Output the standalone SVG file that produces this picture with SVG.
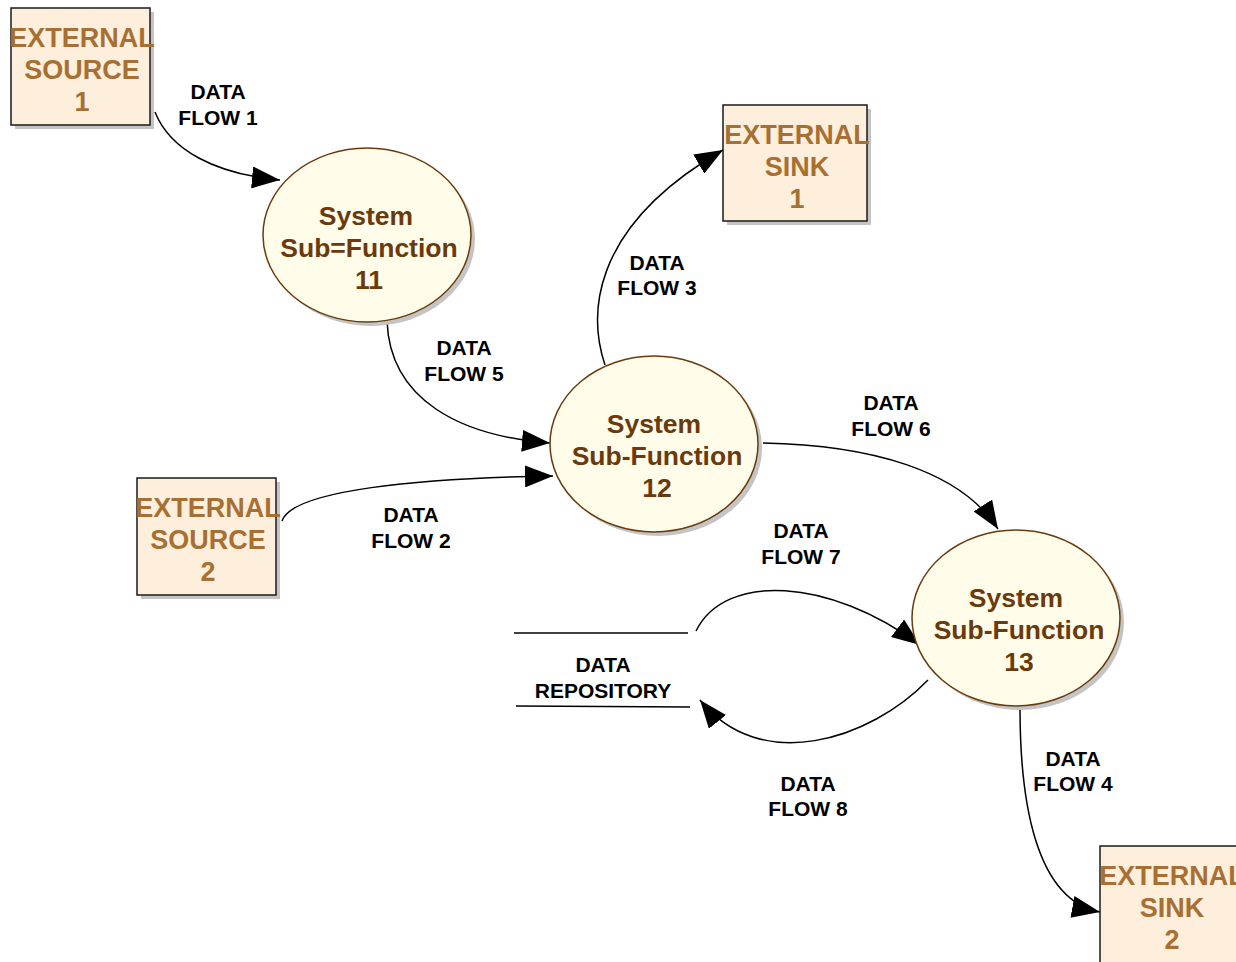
<svg xmlns="http://www.w3.org/2000/svg" width="1236" height="962" viewBox="0 0 1236 962">
<style>
.bx{fill:#FDEFDC;stroke:#1a1a1a;stroke-width:1.5}
.sh{fill:#c4c4c4}
.el{fill:#FFFDE9;stroke:#6B3A0B;stroke-width:1.5}
.bt{font-family:"Liberation Sans",Arial,sans-serif;font-weight:bold;font-size:27px;fill:#A86F32;text-anchor:middle;dominant-baseline:central}
.et{font-family:"Liberation Sans",Arial,sans-serif;font-weight:bold;font-size:26.5px;fill:#6B3A0B;text-anchor:middle;dominant-baseline:central}
.lb{font-family:"Liberation Sans",Arial,sans-serif;font-weight:bold;font-size:21px;fill:#000;text-anchor:middle;dominant-baseline:central}
.cn{fill:none;stroke:#000;stroke-width:1.5}
</style>
<defs>
<marker id="ah" markerUnits="userSpaceOnUse" markerWidth="30" markerHeight="22" refX="28" refY="11" orient="auto">
<path d="M0,0 L28,11 L0,22 Z" fill="#000"/>
</marker>
</defs>
<g id="connectors">
<path class="cn" d="M155,112 C170,150 215,174 280,180" marker-end="url(#ah)"/>
<path class="cn" d="M387,321 C390,400 460,436 550,443" marker-end="url(#ah)"/>
<path class="cn" d="M282,521 C292,490 420,478 553,476" marker-end="url(#ah)"/>
<path class="cn" d="M605,365 C590,320 585,230 723,150" marker-end="url(#ah)"/>
<path class="cn" d="M763,443 C870,445 960,470 998,529" marker-end="url(#ah)"/>
<path class="cn" d="M696,631 C725,572 830,578 920,645" marker-end="url(#ah)"/>
<path class="cn" d="M928,680 C870,740 760,775 700,700" marker-end="url(#ah)"/>
<path class="cn" d="M1020,708 C1020,800 1035,900 1100,912" marker-end="url(#ah)"/>
</g>
<g id="labels">
<text class="lb" x="218" y="91">DATA</text><text class="lb" x="218" y="117">FLOW 1</text>
<text class="lb" x="464" y="347">DATA</text><text class="lb" x="464" y="373">FLOW 5</text>
<text class="lb" x="411" y="514">DATA</text><text class="lb" x="411" y="540">FLOW 2</text>
<text class="lb" x="657" y="262">DATA</text><text class="lb" x="657" y="287">FLOW 3</text>
<text class="lb" x="891" y="402">DATA</text><text class="lb" x="891" y="428">FLOW 6</text>
<text class="lb" x="801" y="530">DATA</text><text class="lb" x="801" y="556">FLOW 7</text>
<text class="lb" x="808" y="783">DATA</text><text class="lb" x="808" y="808">FLOW 8</text>
<text class="lb" x="1073" y="758">DATA</text><text class="lb" x="1073" y="783">FLOW 4</text>
</g>
<g id="repository">
<line x1="514" y1="633" x2="688" y2="633" stroke="#000" stroke-width="1.5"/>
<line x1="516" y1="706" x2="690" y2="707" stroke="#000" stroke-width="1.5"/>
<text class="lb" x="603" y="664">DATA</text><text class="lb" x="603" y="690">REPOSITORY</text>
</g>
<g id="source1">
<rect class="sh" x="15" y="12" width="139" height="117"/>
<rect class="bx" x="11" y="8" width="139" height="117"/>
<text class="bt" x="82" y="38">EXTERNAL</text><text class="bt" x="82" y="70">SOURCE</text><text class="bt" x="82" y="102">1</text>
</g>
<g id="source2">
<rect class="sh" x="141" y="482" width="139" height="117"/>
<rect class="bx" x="137" y="478" width="139" height="117"/>
<text class="bt" x="208" y="508">EXTERNAL</text><text class="bt" x="208" y="540">SOURCE</text><text class="bt" x="208" y="572">2</text>
</g>
<g id="sink1">
<rect class="sh" x="727" y="109" width="144" height="116"/>
<rect class="bx" x="723" y="105" width="144" height="116"/>
<text class="bt" x="797" y="135">EXTERNAL</text><text class="bt" x="797" y="167">SINK</text><text class="bt" x="797" y="199">1</text>
</g>
<g id="sink2">
<rect class="sh" x="1104" y="850" width="144" height="116"/>
<rect class="bx" x="1100" y="846" width="144" height="120"/>
<text class="bt" x="1172" y="876">EXTERNAL</text><text class="bt" x="1172" y="908">SINK</text><text class="bt" x="1172" y="940">2</text>
</g>
<g id="proc11">
<ellipse class="sh" cx="371" cy="239" rx="104" ry="87"/>
<ellipse class="el" cx="367" cy="235" rx="104" ry="87"/>
<text class="et" x="366" y="216">System</text><text class="et" x="369" y="248">Sub=Function</text><text class="et" x="369" y="280">11</text>
</g>
<g id="proc12">
<ellipse class="sh" cx="658" cy="448" rx="104" ry="88"/>
<ellipse class="el" cx="654" cy="444" rx="104" ry="88"/>
<text class="et" x="654" y="424">System</text><text class="et" x="657" y="456">Sub-Function</text><text class="et" x="657" y="488">12</text>
</g>
<g id="proc13">
<ellipse class="sh" cx="1020" cy="622" rx="104" ry="88"/>
<ellipse class="el" cx="1016" cy="618" rx="104" ry="88"/>
<text class="et" x="1016" y="598">System</text><text class="et" x="1019" y="630">Sub-Function</text><text class="et" x="1019" y="662">13</text>
</g>
</svg>
